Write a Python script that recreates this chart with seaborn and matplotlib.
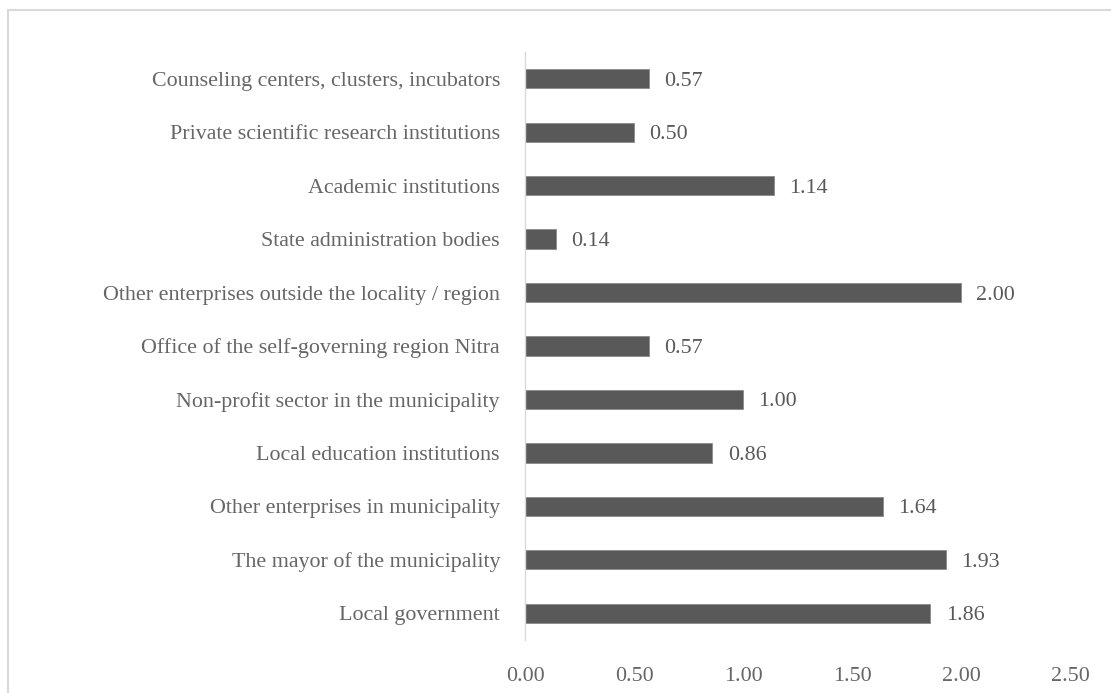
import matplotlib
matplotlib.use("Agg")
import matplotlib.pyplot as plt
import seaborn as sns
import pandas as pd
from matplotlib.patches import Rectangle

categories = [
    "Counseling centers, clusters, incubators",
    "Private scientific research institutions",
    "Academic institutions",
    "State administration bodies",
    "Other enterprises outside the locality / region",
    "Office of the self-governing region Nitra",
    "Non-profit sector in the municipality",
    "Local education institutions",
    "Other enterprises in municipality",
    "The mayor of the municipality",
    "Local government",
]
values = [0.57, 0.50, 1.14, 0.14, 2.00, 0.57, 1.00, 0.86, 1.64, 1.93, 1.86]
xticks = [0.0, 0.5, 1.0, 1.5, 2.0, 2.5]

df = pd.DataFrame({"category": categories, "value": values})

sns.set_theme(style="white")
plt.rcParams["font.family"] = ["Liberation Serif", "DejaVu Serif"]

W, H = 1111, 693
fig = plt.figure(figsize=(W / 100, H / 100), dpi=100)
fig.patch.set_facecolor("white")

# axes: x from 525 to 525+2.5*218=1070; y from 52 to 640
left, right = 525, 1070
top, bottom = 52, 640
ax = fig.add_axes([left / W, 1 - bottom / H, (right - left) / W, (bottom - top) / H])

sns.barplot(data=df, y="category", x="value", orient="h", ax=ax,
            color="#595959", width=0.36, edgecolor="#8a8a8a", linewidth=0.6,
            saturation=1)

ax.set_xlim(0, 2.5)
ax.set_ylim(len(categories) - 0.5, -0.5)
ax.set_xticks(xticks)
ax.set_xticklabels([f"{t:.2f}" for t in xticks])
ax.set_xlabel("")
ax.set_ylabel("")

text_color = "#666666"
fs = 15.8
for s in ["top", "right", "bottom"]:
    ax.spines[s].set_visible(False)
ax.spines["left"].set_color("#d9d9d9")
ax.spines["left"].set_linewidth(1.0)

ax.tick_params(axis="y", length=0, pad=18, labelsize=fs, labelcolor=text_color)
ax.tick_params(axis="x", length=0, pad=19.5, labelsize=fs, labelcolor=text_color)
for t in ax.get_yticklabels():
    t.set_verticalalignment("center_baseline")

for c in ax.containers:
    texts = ax.bar_label(c, labels=[f"{v:.2f}" for v in values], padding=11,
                         fontsize=fs, color="#595959")
    for t in texts:
        t.set_verticalalignment("center_baseline")

# outer border (extends beyond right/bottom edge like reference)
fig.patches.append(Rectangle((8 / W, -0.05), 1.2, 1 - 10 / H + 0.05,
                             transform=fig.transFigure, fill=False,
                             edgecolor="#d9d9d9", linewidth=1.5))

fig.savefig("out.png", dpi=100, facecolor="white")
